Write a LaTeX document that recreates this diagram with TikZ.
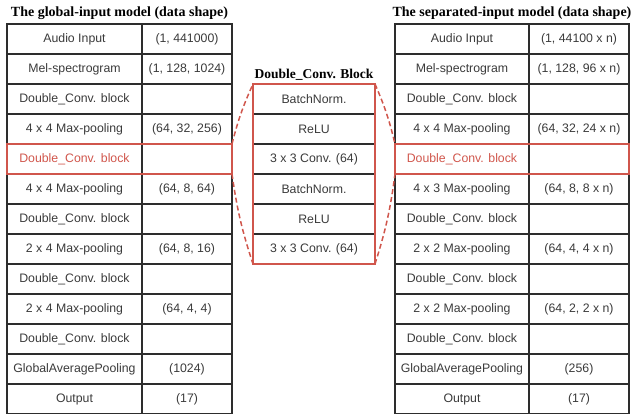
\documentclass[tikz,border=0pt]{standalone}
\usepackage{fontspec}
\setmainfont{Liberation Serif}
\newfontfamily\cellfont{Liberation Sans}
\usetikzlibrary{positioning}

\definecolor{hlred}{RGB}{208,86,76}
\definecolor{gridgray}{RGB}{45,45,45}
\definecolor{txtgray}{RGB}{58,58,58}

\tikzset{
    cell/.style={draw=gridgray, line width=1.3pt, minimum height=30pt, inner sep=0pt, outer sep=0pt,
        text=txtgray, font=\cellfont\fontsize{12.3}{14}\selectfont},
    layercell/.style={cell, minimum width=135pt},
    shapecell/.style={cell, minimum width=90pt},
    slayercell/.style={cell, minimum width=134pt},
    sshapecell/.style={cell, minimum width=100pt},
    blockcell/.style={cell, minimum width=122pt},
    title/.style={inner sep=0pt, font=\bfseries\fontsize{14}{16}\selectfont},
    hlframe/.style={draw=hlred, line width=2pt},
    zoomline/.style={draw=hlred, line width=1.5pt, dash pattern=on 5pt off 3pt}
}

\begin{document}
\begin{tikzpicture}[x=1pt, y=1pt]
    \useasboundingbox (0,0) rectangle (631,413);

    % global-input model
    \node[title] (gtitle) at (119.5,400) {The global-input model (data shape)};
    \node[layercell, anchor=north west] (g1) at (7,389) {Audio Input};
    \node[shapecell, right=0pt of g1] (gs1) {(1, 441000)};
    \node[layercell, below=0pt of g1] (g2) {Mel-spectrogram};
    \node[shapecell, right=0pt of g2] (gs2) {(1, 128, 1024)};
    \node[layercell, below=0pt of g2] (g3) {Double\_Conv. block};
    \node[shapecell, right=0pt of g3] (gs3) {};
    \node[layercell, below=0pt of g3] (g4) {4 x 4 Max-pooling};
    \node[shapecell, right=0pt of g4] (gs4) {(64, 32, 256)};
    \node[layercell, below=0pt of g4, text=hlred] (g5) {Double\_Conv. block};
    \node[shapecell, right=0pt of g5] (gs5) {};
    \node[layercell, below=0pt of g5] (g6) {4 x 4 Max-pooling};
    \node[shapecell, right=0pt of g6] (gs6) {(64, 8, 64)};
    \node[layercell, below=0pt of g6] (g7) {Double\_Conv. block};
    \node[shapecell, right=0pt of g7] (gs7) {};
    \node[layercell, below=0pt of g7] (g8) {2 x 4 Max-pooling};
    \node[shapecell, right=0pt of g8] (gs8) {(64, 8, 16)};
    \node[layercell, below=0pt of g8] (g9) {Double\_Conv. block};
    \node[shapecell, right=0pt of g9] (gs9) {};
    \node[layercell, below=0pt of g9] (g10) {2 x 4 Max-pooling};
    \node[shapecell, right=0pt of g10] (gs10) {(64, 4, 4)};
    \node[layercell, below=0pt of g10] (g11) {Double\_Conv. block};
    \node[shapecell, right=0pt of g11] (gs11) {};
    \node[layercell, below=0pt of g11] (g12) {GlobalAveragePooling};
    \node[shapecell, right=0pt of g12] (gs12) {(1024)};
    \node[layercell, below=0pt of g12] (g13) {Output};
    \node[shapecell, right=0pt of g13] (gs13) {(17)};
    \draw[hlframe] (g5.north west) rectangle (gs5.south east);

    % separated-input model
    \node[title] (stitle) at (512,400) {The separated-input model (data shape)};
    \node[slayercell, anchor=north west] (s1) at (395,389) {Audio Input};
    \node[sshapecell, right=0pt of s1] (ss1) {(1, 44100 x n)};
    \node[slayercell, below=0pt of s1] (s2) {Mel-spectrogram};
    \node[sshapecell, right=0pt of s2] (ss2) {(1, 128, 96 x n)};
    \node[slayercell, below=0pt of s2] (s3) {Double\_Conv. block};
    \node[sshapecell, right=0pt of s3] (ss3) {};
    \node[slayercell, below=0pt of s3] (s4) {4 x 4 Max-pooling};
    \node[sshapecell, right=0pt of s4] (ss4) {(64, 32, 24 x n)};
    \node[slayercell, below=0pt of s4, text=hlred] (s5) {Double\_Conv. block};
    \node[sshapecell, right=0pt of s5] (ss5) {};
    \node[slayercell, below=0pt of s5] (s6) {4 x 3 Max-pooling};
    \node[sshapecell, right=0pt of s6] (ss6) {(64, 8, 8 x n)};
    \node[slayercell, below=0pt of s6] (s7) {Double\_Conv. block};
    \node[sshapecell, right=0pt of s7] (ss7) {};
    \node[slayercell, below=0pt of s7] (s8) {2 x 2 Max-pooling};
    \node[sshapecell, right=0pt of s8] (ss8) {(64, 4, 4 x n)};
    \node[slayercell, below=0pt of s8] (s9) {Double\_Conv. block};
    \node[sshapecell, right=0pt of s9] (ss9) {};
    \node[slayercell, below=0pt of s9] (s10) {2 x 2 Max-pooling};
    \node[sshapecell, right=0pt of s10] (ss10) {(64, 2, 2 x n)};
    \node[slayercell, below=0pt of s10] (s11) {Double\_Conv. block};
    \node[sshapecell, right=0pt of s11] (ss11) {};
    \node[slayercell, below=0pt of s11] (s12) {GlobalAveragePooling};
    \node[sshapecell, right=0pt of s12] (ss12) {(256)};
    \node[slayercell, below=0pt of s12] (s13) {Output};
    \node[sshapecell, right=0pt of s13] (ss13) {(17)};
    \draw[hlframe] (s5.north west) rectangle (ss5.south east);

    % inside of the double conv block
    \node[blockcell, anchor=north west] (b1) at (253,329) {BatchNorm.};
    \node[blockcell, below=0pt of b1] (b2) {ReLU};
    \node[blockcell, below=0pt of b2] (b3) {3 x 3 Conv. (64)};
    \node[blockcell, below=0pt of b3] (b4) {BatchNorm.};
    \node[blockcell, below=0pt of b4] (b5) {ReLU};
    \node[blockcell, below=0pt of b5] (b6) {3 x 3 Conv. (64)};
    \draw[hlframe, line width=2.5pt] (b1.north west) rectangle (b6.south east);
    \node[title, font=\bfseries\fontsize{13.5}{15}\selectfont, above=3pt of b1] (btitle) {Double\_Conv. Block};

    % zoom lines
    \draw[zoomline] (gs5.north east) to[bend left=5] (b1.north west);
    \draw[zoomline] (gs5.south east) to[bend right=5] (b6.south west);
    \draw[zoomline] (b1.north east) to[bend left=5] (s5.north west);
    \draw[zoomline] (b6.south east) to[bend right=5] (s5.south west);

\end{tikzpicture}
\end{document}
